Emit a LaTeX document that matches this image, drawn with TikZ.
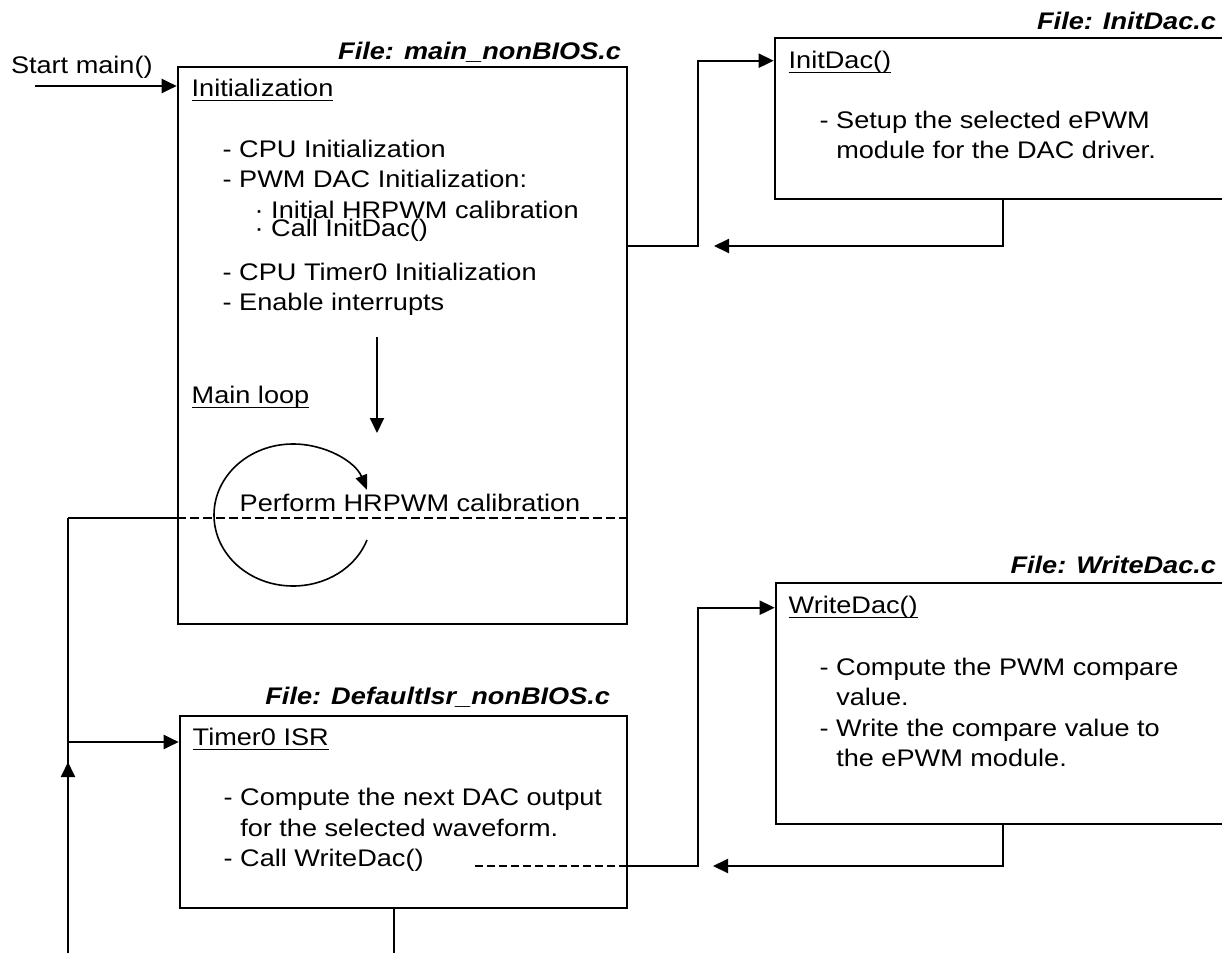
\documentclass[tikz,border=0pt]{standalone}
\usepackage{fontspec}
\newfontfamily\dfont{Liberation Sans}[FakeStretch=1.13]
\usepackage{tikz}
\usetikzlibrary{calc, arrows.meta}

\newcommand{\dtext}{\dfont\fontsize{12}{15.25}\selectfont}
\newcommand{\undl}[1]{\setbox0=\hbox{#1}\rlap{\rule[-2.3pt]{\wd0}{0.9pt}}\box0}

\begin{document}
\begin{tikzpicture}[x=0.5pt,y=-0.5pt,line width=1pt,>={Triangle[length=7.5pt,width=7pt]},
  box/.style={draw,line width=1.3pt,inner sep=0pt},
  txt/.style={anchor=base west,inner sep=0pt,align=left,font=\dtext},
  file/.style={anchor=base east,inner sep=0pt,font=\dtext\bfseries\itshape}]
\useasboundingbox (0,0) rectangle (1222,953);

% boxes
\draw node [box,minimum width=224.5pt,minimum height=278.5pt] (main)     at (402.5,345.5) {};
\draw node [box,minimum width=232.5pt,minimum height=80.5pt]  (initdac)  at (1007.5,118.5) {};
\draw node [box,minimum width=232pt,minimum height=120.5pt]   (writedac) at (1008,703.5) {};
\draw node [box,minimum width=223.5pt,minimum height=96pt]    (timer)    at (403.5,812) {};

% file names
\node [file] (mainfile)  at (622,59)   {File: main\_nonBIOS.c};
\node [file] (initfile)  at (1217,29)  {File: InitDac.c};
\node [file] (writefile) at (1217,573) {File: WriteDac.c};
\node [file] (isrfile)   at (611,704)  {File: DefaultIsr\_nonBIOS.c};

% texts (multi-line nodes sit on their last line)
\node [txt] (startlbl) at (10,73) {Start main()};
\node [txt] (initttl)  at ($ (main.north west) + (14,31) $) {\undl{Initialization}};
\node [txt] (initlist) at ($ (main.north west) + (45,245) $) {- CPU Initialization\\
- PWM DAC Initialization:\\
\hspace*{16pt}· Initial HRPWM calibration\\[-6.25pt]
\hspace*{16pt}· Call InitDac()\\[6.75pt]
- CPU Timer0 Initialization\\
- Enable interrupts};
\node [txt] (loopttl)  at ($ (main.north west) + (14,338) $) {\undl{Main loop}};
\node [txt] (calib)    at ($ (main.north west) + (62,446) $) {Perform HRPWM calibration};

\node [txt] (initdacttl)  at ($ (initdac.north west) + (14,32) $) {\undl{InitDac()}};
\node [txt] (initdaclist) at ($ (initdac.north west) + (45,122) $) {- Setup the selected ePWM\\
\phantom{- }module for the DAC driver.};

\node [txt] (writettl)  at ($ (writedac.north west) + (13,32) $) {\undl{WriteDac()}};
\node [txt] (writelist) at ($ (writedac.north west) + (44,185) $) {- Compute the PWM compare\\
\phantom{- }value.\\
- Write the compare value to\\
\phantom{- }the ePWM module.};

\node [txt] (isrttl)  at ($ (timer.north west) + (13,31) $) {\undl{Timer0 ISR}};
\node [txt] (isrlist) at ($ (timer.north west) + (44,152) $) {- Compute the next DAC output\\
\phantom{- }for the selected waveform.\\
- Call WriteDac()};

% connectors
\coordinate (start)   at (35,86);
\coordinate (dtop)    at (377,337);
\coordinate (dbot)    at (377,433);
\coordinate (loop)    at (293,515);
\coordinate (cal)     at (68,518);
\coordinate (feed)    at (68,953);
\coordinate (isrin)   at (68,742);
\coordinate (isrout)  at (394,953);
\coordinate (j1)      at (698,246);
\coordinate (j2)      at (698,866);
\coordinate (calldac) at (475,866);

\draw [->] (start) -- (start -| main.west);
\draw [->] (dtop) -- (dbot);
\draw [line width=.8pt,-{Triangle[length=7.5pt,width=6pt]}] ($ (loop) + (74,25) $)
  .. controls ($ (loop) + (62.6,53) $) and ($ (loop) + (33,71) $) .. ($ (loop) + (0,71) $)
  .. controls ($ (loop) + (-44,71) $) and ($ (loop) + (-79,39) $) .. ($ (loop) + (-79,0) $)
  .. controls ($ (loop) + (-79,-39) $) and ($ (loop) + (-44,-71) $) .. ($ (loop) + (0,-71) $)
  .. controls ($ (loop) + (33,-71) $) and ($ (loop) + (62.6,-53) $) .. ($ (loop) + (74,-25) $);

\draw (cal) -- (cal -| main.west);
\draw [dash pattern=on 4.5pt off 2pt] (cal -| main.west) -- (cal -| main.east);
\draw (cal) -- (feed);
\draw [->] (feed) -- ($ (isrin) + (0,20) $);
\draw [->] (isrin) -- (isrin -| timer.west);
\draw (isrout |- timer.south) -- (isrout);

\draw [->] (j1 -| main.east) -- (j1) |- ($ (initdac.north west) + (0,24) $);
\draw [->] ($ (initdac.south west) + (229,0) $) |- ($ (j1) + (16,0) $);

\draw [dash pattern=on 4pt off 2pt] (calldac) -- (j2 -| timer.east);
\draw [->] (j2 -| timer.east) -- (j2) |- ($ (writedac.north west) + (0,26) $);
\draw [->] ($ (writedac.south west) + (228,0) $) |- ($ (j2) + (15,0) $);
\end{tikzpicture}
\end{document}
